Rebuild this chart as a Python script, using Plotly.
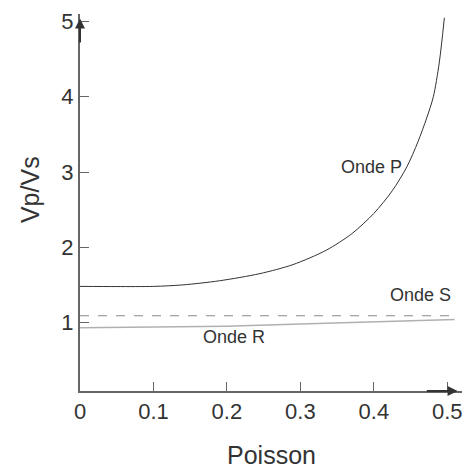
import plotly.graph_objects as go

# Vp/Vs ratio against Poisson's ratio
poisson_p = [0, 0.05, 0.10, 0.14, 0.19, 0.245, 0.29, 0.335, 0.37, 0.40, 0.425,
             0.445, 0.46, 0.472, 0.481, 0.489, 0.496]
onde_p = [1.48, 1.478, 1.48, 1.50, 1.555, 1.65, 1.77, 1.96, 2.18, 2.45, 2.75,
          3.07, 3.40, 3.72, 4.00, 4.45, 5.05]

poisson_s = [0, 0.51]
onde_s = [1.09, 1.09]

poisson_r = [0, 0.1, 0.2, 0.3, 0.4, 0.51]
onde_r = [0.93, 0.94, 0.95, 0.98, 1.01, 1.04]

x_ticks = [0, 0.1, 0.2, 0.3, 0.4, 0.5]
x_labels = ["0", "0.1", "0.2", "0.3", "0.4", "0.5"]
y_ticks = [1, 2, 3, 4, 5]

font = "Liberation Sans, Arial, sans-serif"
axis_col = "#666666"
text_col = "#333333"

fig = go.Figure()
fig.add_trace(go.Scatter(x=poisson_r, y=onde_r, mode="lines", name="Onde R",
                         line=dict(color="#b0b0b0", width=1.5)))
fig.add_trace(go.Scatter(x=poisson_s, y=onde_s, mode="lines", name="Onde S",
                         line=dict(color="#888888", width=1, dash="dash")))
fig.add_trace(go.Scatter(x=poisson_p, y=onde_p, mode="lines", name="Onde P",
                         line=dict(color="#333333", width=1, shape="spline", smoothing=0.8)))

# curve labels
fig.add_annotation(x=0.397, y=3.07, text="Onde P", showarrow=False,
                   font=dict(size=18, color=text_col, family=font))
fig.add_annotation(x=0.463, y=1.37, text="Onde S", showarrow=False,
                   font=dict(size=18, color=text_col, family=font))
fig.add_annotation(x=0.21, y=0.81, text="Onde R", showarrow=False,
                   font=dict(size=18, color=text_col, family=font))

# axis titles
fig.add_annotation(x=0.5, y=0, xref="paper", yref="paper", yanchor="middle", yshift=-64,
                   text="Poisson", showarrow=False,
                   font=dict(size=25, color=text_col, family=font))
fig.add_annotation(x=0, y=0.533, xref="paper", yref="paper", xanchor="center", xshift=-50,
                   text="Vp/Vs", textangle=-90, showarrow=False,
                   font=dict(size=25, color=text_col, family=font))

# axis arrow heads
fig.add_annotation(x=0, y=5.04, ax=0, ay=4.7, xref="x", yref="y", axref="x", ayref="y",
                   text="", showarrow=True, arrowhead=2, arrowsize=1, arrowwidth=2,
                   arrowcolor="#333333")
fig.add_annotation(x=0.514, y=0.09, ax=0.47, ay=0.09, xref="x", yref="y", axref="x", ayref="y",
                   text="", showarrow=True, arrowhead=2, arrowsize=1, arrowwidth=2,
                   arrowcolor="#333333")

# page body has an 8px margin, so the figure is drawn 8px smaller
fig.update_layout(
    width=466, height=461,
    margin=dict(l=72, r=12, t=6, b=78),
    plot_bgcolor="white", paper_bgcolor="white",
    showlegend=False,
    font=dict(family=font, color=text_col),
    xaxis=dict(range=[0, 0.52], tickvals=x_ticks, ticktext=x_labels, automargin=False,
               showgrid=False, zeroline=False, showline=True, linecolor=axis_col, linewidth=2,
               ticks="inside", ticklen=9, tickcolor=axis_col, tickfont=dict(size=22)),
    yaxis=dict(range=[0.09, 5.1], tickvals=y_ticks, automargin=False,
               showgrid=False, zeroline=False, showline=True, linecolor=axis_col, linewidth=2,
               ticks="inside", ticklen=9, tickcolor=axis_col, tickfont=dict(size=22)),
)

fig.write_html("out.html")
